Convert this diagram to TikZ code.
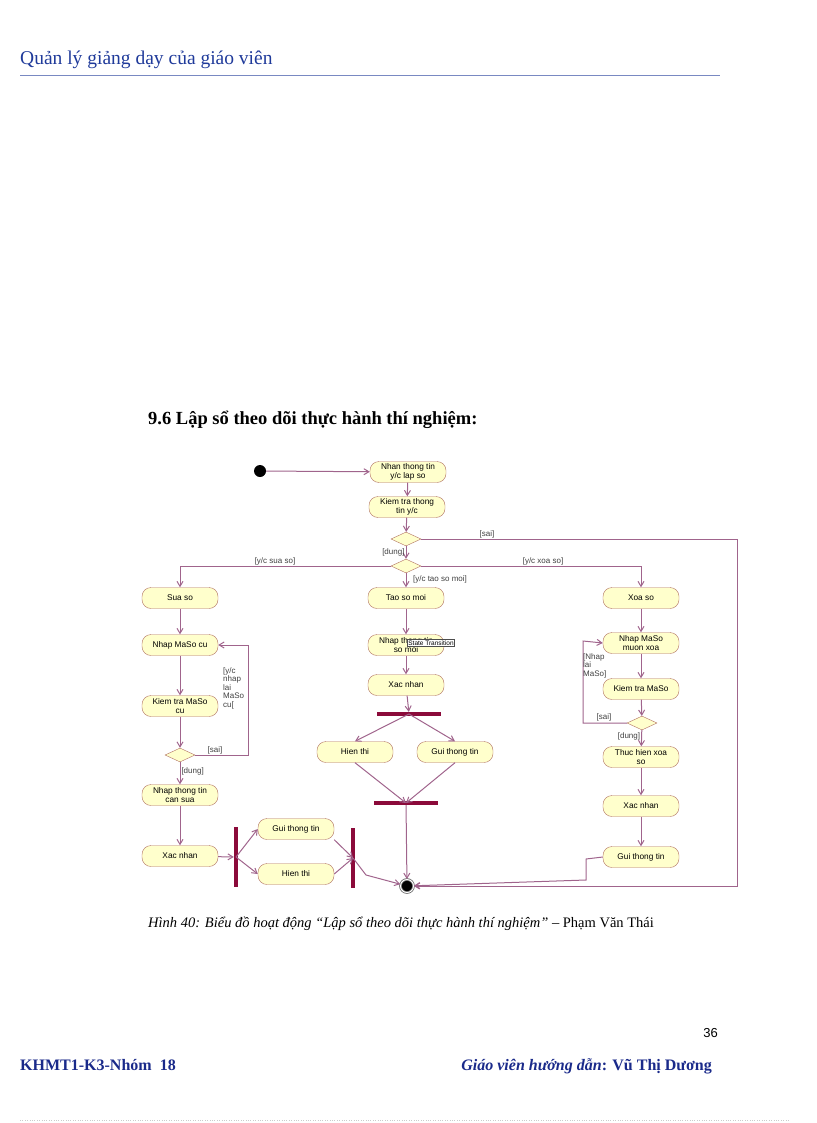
\documentclass[tikz,border=0pt]{standalone}
\usepackage{fontspec}
\setmainfont{Liberation Serif}
\newfontfamily\dsans{Liberation Sans}
\usetikzlibrary{shapes.geometric,arrows.meta}
\definecolor{hdr}{HTML}{1F3A9A}
\definecolor{ftr}{HTML}{1A2A8A}
\definecolor{ln}{HTML}{A0648C}
\definecolor{bd}{HTML}{B07060}
\definecolor{fl}{HTML}{FFFFCC}
\definecolor{bar}{HTML}{8B0A3A}
\begin{document}
\begin{tikzpicture}[x=1pt,y=-1pt,
  act/.style={draw=bd,fill=fl,rounded corners=9pt,minimum width=76pt,minimum height=21pt,inner sep=1pt,align=center,font=\dsans\fontsize{8.3}{8.5}\selectfont},
  dec/.style={draw=bd,fill=fl,diamond,aspect=2.2,minimum width=30pt,minimum height=14pt,inner sep=0pt},
  fl/.style={draw=ln,line width=1pt,-{Straight Barb[length=5pt,width=6pt]}},
  lab/.style={font=\dsans\fontsize{8}{8.5}\selectfont,text=black!75,inner sep=1pt,align=left}]
\useasboundingbox (0,0) rectangle (816,1123);
% header
\node[anchor=base west,text=hdr,font=\fontsize{19.5}{22}\selectfont,inner sep=0] (h) at (20,65) {Quản lý giảng dạy của giáo viên};
\draw[hdr!60,line width=0.8pt] (20,75) coordinate (hl) -- (720,75) coordinate (hr);
\node[anchor=base west,font=\bfseries\fontsize{18.5}{20}\selectfont,inner sep=0] (t) at (148,424) {9.6 Lập sổ theo dõi thực hành thí nghiệm:};
% nodes
\node[circle,fill=black,minimum size=12pt,inner sep=0] (s) at (260,471) {};
\node[act] (n1) at (408,472) {Nhan thong tin\\y/c lap so};
\node[act] (n2) at (407,507) {Kiem tra thong\\tin y/c};
\node[dec] (d1) at (406,539) {};
\node[dec] (d2) at (406,566) {};
\node[act] (a1) at (180,598) {Sua so};
\node[act] (a2) at (180,645) {Nhap MaSo cu};
\node[act] (a3) at (180,706) {Kiem tra MaSo\\cu};
\node[dec] (a4) at (180,755) {};
\node[act] (a5) at (180,795) {Nhap thong tin\\can sua};
\node[act] (a6) at (180,856) {Xac nhan};
\node[fill=bar,minimum width=4pt,minimum height=60pt,inner sep=0] (b1) at (236,857) {};
\node[act] (a7) at (296,829) {Gui thong tin};
\node[act] (a8) at (296,874) {Hien thi};
\node[fill=bar,minimum width=4pt,minimum height=60pt,inner sep=0] (b2) at (353,858) {};
\node[act] (m1) at (406,598) {Tao so moi};
\node[act] (m2) at (406,645) {Nhap thong tin\\so moi};
\node[act] (m3) at (406,685) {Xac nhan};
\node[fill=bar,minimum width=64pt,minimum height=4pt,inner sep=0] (f1) at (409,714) {};
\node[act] (m4) at (355,752) {Hien thi};
\node[act] (m5) at (455,752) {Gui thong tin};
\node[fill=bar,minimum width=64pt,minimum height=4pt,inner sep=0] (f2) at (406,803) {};
\node[circle,draw=black!60,thick,fill=black,minimum size=13pt,inner sep=0,double=white,double distance=1pt] (e) at (407,886) {};
\node[act] (r1) at (641,598) {Xoa so};
\node[act] (r2) at (641,643) {Nhap MaSo\\muon xoa};
\node[act] (r3) at (641,689) {Kiem tra MaSo};
\node[dec] (r4) at (642,723) {};
\node[act] (r5) at (641,757) {Thuc hien xoa\\so};
\node[act] (r6) at (641,806) {Xac nhan};
\node[act] (r7) at (641,857) {Gui thong tin};
% connectors
\draw[fl] (s) -- (n1);
\draw[fl] (n1) -- (n2);
\draw[fl] (n2) -- (d1);
\draw[fl] (d1) -- node[lab,left,pos=0.5]{[dung]} (d2);
\draw[fl] (d1.east) -- (737,539) -- (737,886) -- (e);
\node[lab] (ls) at (487,534) {[sai]};
\draw[fl] (d2.west) -- (180,566) -- (a1);
\node[lab] (l1) at (275,561) {[y/c sua so]};
\draw[fl] (d2.east) -- (641,566) -- (r1);
\node[lab] (l2) at (543,561) {[y/c xoa so]};
\draw[fl] (d2) -- (m1);
\node[lab] (l3) at (440,579) {[y/c tao so moi]};
\draw[fl] (a1) -- (a2);
\draw[fl] (a2) -- (a3);
\draw[fl] (a3) -- (a4);
\draw[fl] (a4.east) -- (248,755) -- (248,645) -- (a2.east);
\node[lab] (l4) at (215,750) {[sai]};
\node[lab,anchor=north west] (l5) at (222,666) {[y/c\\nhap\\lai\\MaSo\\cu[};
\draw[fl] (a4) -- node[lab,right,pos=0.4]{[dung]} (a5);
\draw[fl] (a5) -- (a6);
\draw[fl] (a6) -- (b1);
\draw[fl] (b1.center) -- (a7.west);
\draw[fl] (b1.center) -- (a8.west);
\draw[fl] (a7.south east) -- (b2.center);
\draw[fl] (a8.east) -- (b2.center);
\draw[fl] (b2.center) -- (366,875) -- (e);
\draw[fl] (m1) -- (m2);
\node[draw=black!70,fill=white,font=\dsans\fontsize{6.5}{7}\selectfont,inner sep=1pt] (tt) at (431,643) {State Transition};
\draw[fl] (m2) -- (m3);
\draw[fl] (m3) -- (f1);
\draw[fl] (f1.center) -- (m4.north);
\draw[fl] (f1.center) -- (m5.north);
\draw[fl] (m4.south) -- (f2.center);
\draw[fl] (m5.south) -- (f2.center);
\draw[fl] (f2) -- (e);
\draw[fl] (r1) -- (r2);
\draw[fl] (r2) -- (r3);
\draw[fl] (r3) -- (r4);
\draw[fl] (r4.west) -- (583,723) -- (583,641) -- (r2.west);
\node[lab] (l6) at (604,717) {[sai]};
\node[lab,anchor=north west] (l7) at (582,652) {[Nhap\\lai\\MaSo]};
\draw[fl] (r4) -- node[lab,left,pos=0.4]{[dung]} (r5);
\draw[fl] (r5) -- (r6);
\draw[fl] (r6) -- (r7);
\draw[fl] (r7.west) -- (586,859) -- (586,880) -- (e);
% caption
\node[anchor=base west,inner sep=0,font=\fontsize{14.5}{16}\selectfont] (cap) at (148,927) {\itshape Hình 40: Biểu đồ hoạt động “Lập sổ theo dõi thực hành thí nghiệm”\upshape{} – Phạm Văn Thái};
\node[anchor=base east,inner sep=0,font=\dsans\fontsize{13}{14}\selectfont] (pg) at (718,1037) {36};
\node[anchor=base west,inner sep=0,text=ftr,font=\bfseries\fontsize{16}{18}\selectfont] (f1t) at (20,1070) {KHMT1-K3-Nhóm\ \ 18};
\node[anchor=base east,inner sep=0,text=ftr,font=\bfseries\fontsize{16}{18}\selectfont] (f2t) at (712,1070) {\itshape Giáo viên hướng dẫn\upshape: Vũ Thị Dương};
\draw[black!20,dotted] (20,1120) -- (790,1120);
\end{tikzpicture}
\end{document}
